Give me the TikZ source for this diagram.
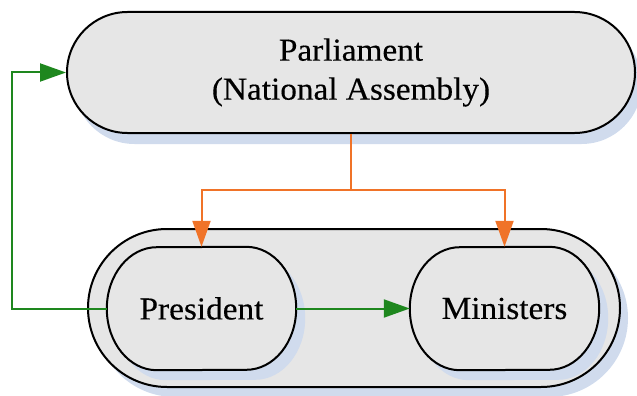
\documentclass[tikz,border=0pt]{standalone}
\usepackage{fontspec}
\setmainfont{Liberation Serif}[FakeStretch=1.04,FakeBold=0.3]
\usetikzlibrary{shapes.misc,arrows.meta}
\definecolor{boxfill}{RGB}{230,230,230}
\definecolor{shadowcol}{RGB}{208,219,237}
\definecolor{linkgreen}{RGB}{30,135,30}
\definecolor{linkorange}{RGB}{240,115,40}
\newcommand\ovalpath[1]{([xshift=-50pt]#1.north east) arc[start angle=90,end angle=-90,x radius=50pt,y radius=61.5pt] -- ([xshift=50pt]#1.south west) arc[start angle=270,end angle=90,x radius=50pt,y radius=61.5pt] -- cycle}
\tikzset{
  stadium/.style={rounded rectangle, draw=black, line width=2pt, fill=boxfill, inner sep=0pt},
  ovalnode/.style={draw=none, inner sep=0pt, minimum width=189pt, minimum height=123pt},
  outline/.style={draw=black, line width=2pt, fill=boxfill},
  shade/.style={fill=shadowcol, transform canvas={shift={(9pt,-10pt)}}},
  lbl/.style={font=\fontsize{32}{39}\selectfont, align=center},
  greenlink/.style={draw=linkgreen, line width=2pt, -{Triangle[length=26pt,width=18pt]}},
  orangelink/.style={draw=linkorange, line width=2pt, -{Triangle[length=26pt,width=18pt]}},
}
\begin{document}
\begin{tikzpicture}[x=1pt,y=-1pt]
\useasboundingbox (0,0) rectangle (637,396);
% container
\node[stadium, minimum width=532pt, minimum height=158pt, draw=none, fill=shadowcol] at (362,318) {};
\node[stadium, minimum width=532pt, minimum height=158pt] (govt) at (354,308) {};
% president and ministers
\node[ovalnode] (pres) at (201.5,308.5) {};
\node[ovalnode] (min) at (504.5,308.5) {};
\fill[shade] \ovalpath{pres};
\fill[shade] \ovalpath{min};
\path[outline] \ovalpath{pres};
\path[outline] \ovalpath{min};
\node[lbl] at (pres.center) {President};
\node[lbl] at (min.center) {Ministers};
% parliament
\node[stadium, minimum width=568pt, minimum height=121pt, draw=none, fill=shadowcol] at (358,83.5) {};
\node[stadium, minimum width=568pt, minimum height=121pt, lbl] (parl) at (351,72.5) {Parliament\\(National Assembly)};
% connectors
\coordinate (junc) at (351,190);
\coordinate (gl) at (12,308.5);
\draw[draw=linkorange, line width=2pt] (parl.south) -- (junc);
\draw[orangelink] (junc) -| (pres.north);
\draw[orangelink] (junc) -| (min.north);
\draw[greenlink] (pres.west) -- (gl) |- (parl.west);
\draw[greenlink] (pres.east) -- (min.west);
\end{tikzpicture}
\end{document}
